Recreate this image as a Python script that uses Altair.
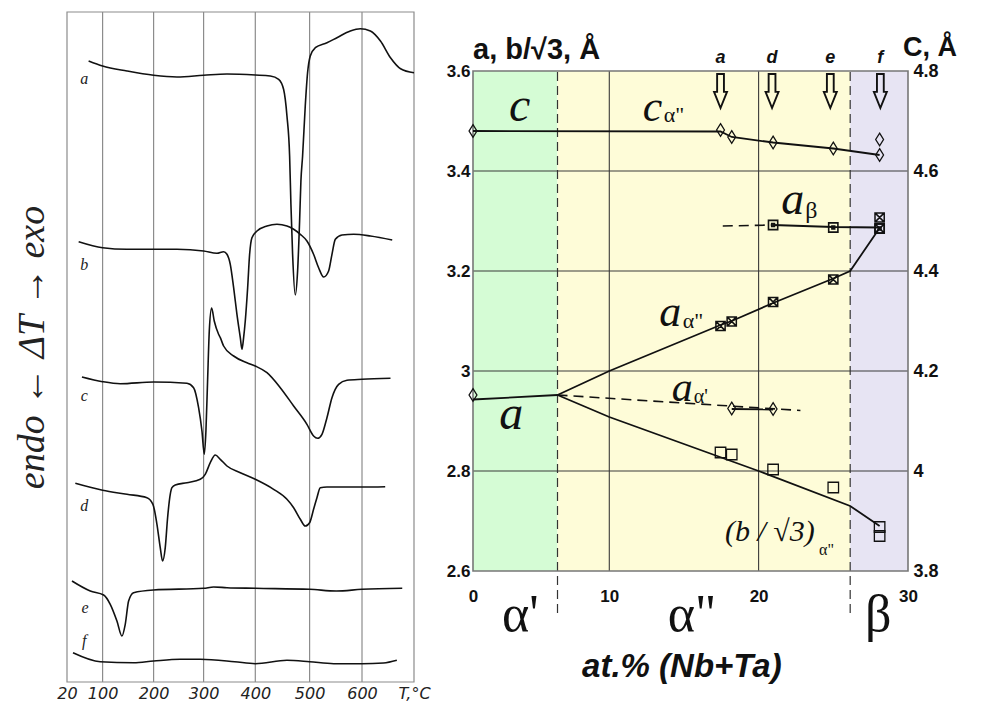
import altair as alt
import pandas as pd

# ---------------- Left panel: DTA curves (signal in arbitrary units) ----------------
T_GRID = [20, 100, 200, 300, 400, 500, 600, 700]
T_RANGE = [0, 35.6, 86.6, 136.6, 188.3, 242.6, 295, 347]

a_T = [68.6, 100, 147.7, 200, 246.7, 300, 345.2, 400, 427.6, 443, 452.1, 458.3, 463.2, 465.6, 468.7, 473.6,
       477.9, 481.6, 484.0, 487.1, 492, 496.3, 501.3, 510.8, 533.1, 552.2, 577.7, 596.8, 616.1, 635.5, 654.8, 674.2, 700]
a_s = [621, 616, 611, 606.7, 605, 606.7, 608, 607, 606, 602.7, 592.7, 566, 526, 477.7, 427.7, 387,
       411, 461, 501, 526, 576, 609.3, 626, 634.3, 639.3, 644.3, 651, 653.3, 651, 641, 624.3, 613.3, 609.3]
b_T = [46.2, 100, 147.7, 200, 246.7, 300, 325.8, 338.7, 345.2, 351.6, 358.1, 364.5, 371, 374.2, 377.4, 380.6,
       385.2, 389, 393.5, 403.1, 421.5, 439.9, 458.3, 470.6, 482.9, 495.1, 507.6, 517.2, 526.8, 536.3, 542.7,
       549.1, 561.8, 584.1, 616.1, 658.1]
b_s = [440.3, 434.3, 432.7, 432.7, 432.7, 431, 428.7, 430.3, 427.7, 417.7, 394.3, 367.7, 344.3, 332.7, 344.3, 361,
       394.3, 427.7, 444.3, 451, 456, 457.7, 456, 452.7, 447.7, 441, 427.7, 414.3, 405, 411, 427.7,
       442.7, 447, 447.7, 446, 442]
c_T = [53.6, 100, 134.6, 200, 266.7, 280, 290, 296.7, 301.3, 304.5, 307.7, 311, 315.5, 320.6, 329, 332.3, 338.7,
       358.1, 383.9, 400, 421.5, 446, 470.6, 495.1, 507.6, 515.3, 523.6, 533.1, 542.7, 555.4, 571.3, 600, 654.8]
c_s = [305, 300.3, 298.3, 300, 298.7, 294.3, 274.3, 251, 227.7, 251, 301, 351, 374, 361, 347.7, 344.3, 336,
       326, 319.3, 316, 309.3, 294.3, 276, 257.7, 246, 243.7, 247.7, 264.3, 284.3, 297.7, 301.7, 302.7, 303.7]
d_T = [38.7, 100, 147.7, 186.9, 198.7, 206.7, 213.3, 218, 223.3, 228, 233.3, 236.7, 243.3, 266.7, 293.3, 303.2,
       312.9, 322.6, 332.3, 345.2, 371, 400, 433.7, 458.3, 470.6, 482.9, 492, 500, 507.6, 514, 520.4, 533.1, 600, 644.6]
d_s = [198.7, 191.7, 187.7, 184.3, 177.7, 157.7, 134.3, 121, 134.3, 164.3, 187.7, 194.3, 197, 199.3, 202.7, 207.7,
       219.3, 227, 222.7, 216, 209.3, 202.7, 192.7, 182.7, 174.3, 162.7, 156, 159.3, 172.7, 184.3, 194.3, 195, 195, 195.3]
e_T = [31.2, 72.3, 102, 115, 128.1, 137.9, 144.4, 151, 160.8, 200, 300, 319.4, 345.2, 400, 500, 551, 600, 677.4]
e_s = [101, 91, 87, 77.7, 61, 46, 57.7, 81, 89.3, 92, 93.7, 95, 94.3, 93.7, 92.7, 91, 92.7, 93.7]
f_T = [33.5, 94.8, 160.8, 200, 253.3, 293.3, 360, 400, 458.3, 500, 545.9, 600, 641.4, 667]
f_s = [29.3, 20.3, 19.3, 21, 22.7, 22.7, 20.3, 18.3, 21.7, 20.3, 18.3, 18.3, 19, 21.7]

curve_names = ["a", "b", "c", "d", "e", "f"]
curve_label_T = [58.9, 58.9, 58.9, 58.9, 60.5, 58.9]
curve_label_s = [598, 412, 281, 171, 69, 36]

# ---------------- Right panel: lattice parameters ----------------
AT_TICKS = [0, 10, 20, 30]
AT_RANGE = [0, 136.3, 285.6, 435]
A_TICKS = [2.6, 2.8, 3.0, 3.2, 3.4, 3.6]
C_TICKS = [3.8, 4.0, 4.2, 4.4, 4.6, 4.8]
A_DOMAIN = [2.6, 3.718]
C_DOMAIN = [3.8, 4.918]

phase_names = ["alpha1", "alpha2", "beta"]
phase_from = [0, 6.2, 26.13]
phase_to = [6.2, 26.13, 30]
phase_colors = ["#d5fcd5", "#fefcd8", "#e7e4f3"]

# lines (a-axis)
a_line_x = [0, 6.2]
a_line_y = [2.943, 2.952]
aa2_line_x = [6.2, 10, 17.45, 18.2, 20.97, 25.0, 26.13, 28.1]
aa2_line_y = [2.952, 3.0, 3.092, 3.10, 3.136, 3.185, 3.2, 3.286]
b_line_x = [6.2, 10, 20, 26.13, 28.1]
b_line_y = [2.952, 2.908, 2.8, 2.73, 2.69]
ab_line_x = [20.97, 25.0, 28.1]
ab_line_y = [3.292, 3.288, 3.287]
aa1_solid_x = [18.2, 20.97]
aa1_solid_y = [2.924, 2.923]
# dashed lines
aa1_dash_x = [6.2, 22.8]
aa1_dash_y = [2.952, 2.921]
ab_dash_x = [17.6, 20.97]
ab_dash_y = [3.29, 3.292]
# c line (c-axis)
c_line_x = [0, 17.45, 18.2, 20.97, 25.0, 28.1]
c_line_y = [4.68, 4.679, 4.668, 4.657, 4.645, 4.632]

# points
c_pts_x = [0, 17.45, 18.2, 20.97, 25.0, 28.1, 28.1]
c_pts_y = [4.68, 4.682, 4.668, 4.657, 4.645, 4.663, 4.632]
adiam_x = [0, 18.2, 20.97]
adiam_y = [2.952, 2.925, 2.924]
aa2_pts_x = [17.45, 18.2, 20.97, 25.0, 28.1, 28.1]
aa2_pts_y = [3.09, 3.099, 3.138, 3.183, 3.307, 3.285]
ab_pts_x = [20.97, 25.0, 28.1]
ab_pts_y = [3.292, 3.287, 3.285]
b_pts_x = [17.45, 18.2, 20.97, 25.0, 28.1, 28.1]
b_pts_y = [2.837, 2.833, 2.803, 2.767, 2.688, 2.670]

arrow_names = ["a", "d", "e", "f"]
arrow_x = [17.45, 20.9, 24.8, 28.15]
arrow_y = 3.56
arrow_label_y = 3.616

# ---------------- build left chart ----------------
rows = []
for name, Ts, ss in zip(curve_names, [a_T, b_T, c_T, d_T, e_T, f_T], [a_s, b_s, c_s, d_s, e_s, f_s]):
    for t, s in zip(Ts, ss):
        rows.append({"curve": name, "T": t, "s": s})
curves_df = pd.DataFrame(rows)

lx = alt.X("T:Q", scale=alt.Scale(domain=T_GRID, range=T_RANGE, nice=False),
           axis=alt.Axis(values=T_GRID, labelExpr="datum.value == 700 ? 'T,°C' : datum.label",
                         ticks=False, domain=False, grid=False, labelFlush=False,
                         labelFont="DejaVu Sans", labelFontStyle="italic", labelFontSize=16,
                         labelColor="#222", labelPadding=3, title=None))
ly = alt.Y("s:Q", scale=alt.Scale(domain=[0, 670], nice=False, zero=False),
           axis=alt.Axis(title="endo ← ΔT → exo", labels=False, ticks=False, domain=False, grid=False,
                         titleFont="Liberation Serif", titleFontStyle="italic", titleFontWeight="normal",
                         titleFontSize=38, titleColor="#222", titlePadding=16))

grid_df = pd.DataFrame({"T": T_GRID[1:-1]})
frame_df = pd.DataFrame({"T": [20], "T2": [700], "s": [0], "s2": [670]})
left_grid = alt.Chart(grid_df).mark_rule(color="#8c8c8c", strokeWidth=1.2).encode(x=lx)
left_frame = alt.Chart(frame_df).mark_rect(fillOpacity=0, stroke="#8c8c8c", strokeWidth=1.2).encode(
    x=lx, x2="T2:Q", y=ly, y2="s2:Q")
left_lines = alt.Chart(curves_df).mark_line(color="#111", strokeWidth=1.6, interpolate="monotone").encode(
    x=lx, y=ly, detail="curve:N")
lab_df = pd.DataFrame({"T": curve_label_T, "s": curve_label_s, "text": curve_names})
left_labels = alt.Chart(lab_df).mark_text(font="Liberation Serif", fontStyle="italic", fontSize=16,
                                          baseline="alphabetic", color="#222").encode(
    x=lx, y=ly, text="text:N")
left = alt.layer(left_grid, left_frame, left_lines, left_labels).properties(width=347, height=670)

# ---------------- build right chart ----------------
rx = alt.X("x:Q", scale=alt.Scale(domain=AT_TICKS, range=AT_RANGE, nice=False),
           axis=alt.Axis(values=AT_TICKS, ticks=False, domain=False, grid=False, labelFlush=False,
                         labelFont="Liberation Sans", labelFontWeight="bold", labelFontSize=17,
                         labelColor="#111", labelPadding=17, title=None))
ry = alt.Y("y:Q", scale=alt.Scale(domain=A_DOMAIN, nice=False, zero=False),
           axis=alt.Axis(values=A_TICKS, format=".1~f", orient="left", ticks=False, domain=False, grid=False,
                         labelFlush=False, labelFont="Liberation Sans", labelFontWeight="bold",
                         labelFontSize=17, labelColor="#111", labelPadding=3, title=None))
cy = alt.Y("y:Q", scale=alt.Scale(domain=C_DOMAIN, nice=False, zero=False),
           axis=alt.Axis(values=C_TICKS, format=".1~f", orient="right", ticks=False, domain=False, grid=False,
                         labelFlush=False, labelFont="Liberation Sans", labelFontWeight="bold",
                         labelFontSize=18, labelColor="#111", labelPadding=5, title=None))


def xy_df(xs, ys, name="s"):
    return pd.DataFrame({"x": xs, "y": ys, "series": [name] * len(xs)})


bands_df = pd.DataFrame({"phase": phase_names, "x": phase_from, "x2": phase_to,
                         "y": [2.6] * 3, "y2": [3.6] * 3})
bands = alt.Chart(bands_df).mark_rect().encode(
    x=rx, x2="x2:Q", y=ry, y2="y2:Q",
    color=alt.Color("phase:N", scale=alt.Scale(domain=phase_names, range=phase_colors), legend=None))

vgrid_df = pd.DataFrame({"x": [10, 20], "y": [2.6, 2.6], "y2": [3.6, 3.6]})
hgrid_df = pd.DataFrame({"y": [2.8, 3.0, 3.2, 3.4], "x": [0] * 4, "x2": [30] * 4})
vgrid = alt.Chart(vgrid_df).mark_rule(color="#3a3a3a", strokeWidth=1.1).encode(x=rx, y=ry, y2="y2:Q")
hgrid = alt.Chart(hgrid_df).mark_rule(color="#3a3a3a", strokeWidth=1.1).encode(x=rx, x2="x2:Q", y=ry)
bound_df = pd.DataFrame({"x": [6.2, 26.13], "y": [2.516, 2.516], "y2": [3.6, 3.6]})
bounds_r = alt.Chart(bound_df).mark_rule(color="#333", strokeWidth=1.2, strokeDash=[9, 5]).encode(
    x=rx, y=ry, y2="y2:Q")
frame_r = alt.Chart(pd.DataFrame({"x": [0], "x2": [30], "y": [2.6], "y2": [3.6]})).mark_rect(
    fillOpacity=0, stroke="#777", strokeWidth=1.6).encode(x=rx, x2="x2:Q", y=ry, y2="y2:Q")

solid_df = pd.concat([xy_df(a_line_x, a_line_y, "a"), xy_df(aa2_line_x, aa2_line_y, "aa2"),
                      xy_df(b_line_x, b_line_y, "b"), xy_df(ab_line_x, ab_line_y, "ab"),
                      xy_df(aa1_solid_x, aa1_solid_y, "aa1")])
solid = alt.Chart(solid_df).mark_line(color="#111", strokeWidth=1.8).encode(x=rx, y=ry, detail="series:N")
dash_df = pd.concat([xy_df(aa1_dash_x, aa1_dash_y, "aa1d"), xy_df(ab_dash_x, ab_dash_y, "abd")])
dashed = alt.Chart(dash_df).mark_line(color="#111", strokeWidth=1.6, strokeDash=[10, 6]).encode(
    x=rx, y=ry, detail="series:N")

DIAMOND = "M 0 -1 L 0.62 0 L 0 1 L -0.62 0 Z"
XSQUARE = "M -1 -1 L 1 -1 L 1 1 L -1 1 Z M -1 -1 L 1 1 M 1 -1 L -1 1"
DSQUARE = "M -1 -1 L 1 -1 L 1 1 L -1 1 Z M -0.3 -0.3 L 0.3 -0.3 L 0.3 0.3 L -0.3 0.3 Z"
ARROW = "M -0.2 -1 L 0.2 -1 L 0.2 0.05 L 0.38 0.05 L 0 1 L -0.38 0.05 L -0.2 0.05 Z"


def pts(xs, ys, shape, size, yenc, sw=1.3):
    return alt.Chart(xy_df(xs, ys)).mark_point(shape=shape, size=size, filled=False, opacity=1,
                                                color="#111", strokeWidth=sw).encode(x=rx, y=yenc)


p_adiam = pts(adiam_x, adiam_y, DIAMOND, 160, ry)
p_aa2 = pts(aa2_pts_x, aa2_pts_y, XSQUARE, 85, ry, 1.5)
p_ab = pts(ab_pts_x, ab_pts_y, DSQUARE, 85, ry, 1.6)
p_b = pts(b_pts_x, b_pts_y, "square", 110, ry, 1.3)
arrows = pts(arrow_x, [arrow_y] * 4, ARROW, 1160, ry, 1.9)


def texts(xs, ys, labels, sizes, font, style="normal", weight="normal", align="center"):
    df = pd.DataFrame({"x": xs, "y": ys, "text": labels, "fs": sizes})
    return alt.Chart(df).mark_text(font=font, fontStyle=style, fontWeight=weight, align=align,
                                   baseline="alphabetic", color="#111").encode(
        x=rx, y=ry, text="text:N", size=alt.Size("fs:Q", scale=None, legend=None))


big_letters = texts([3.42, 12.9, 22.28, 14.09, 14.89, 2.81],
                    [3.5, 3.5, 3.314, 3.09, 2.94, 2.884],
                    ["c", "c", "a", "a", "a", "a"],
                    [48, 44, 46, 44, 42, 48], "Liberation Serif", style="italic")
subs = texts([13.65, 23.12, 14.92, 15.65, 24.05],
             [3.498, 3.306, 3.086, 2.936, 2.632],
             ['α"', "β", 'α"', "α'", 'α"'],
             [22, 24, 22, 20, 16], "Liberation Serif", align="left")
b_sqrt = texts([17.75], [2.66], ["(b / √3)"], [30], "Liberation Serif", style="italic", align="left")
phase_lbl = texts([3.47, 15.54, 28.0], [2.48, 2.48, 2.48], ["α'", 'α"', "β"], [52, 52, 52],
                  "Liberation Serif")
x_title = texts([14.86], [2.388], ["at.% (Nb+Ta)"], [33], "Liberation Sans", style="italic", weight="bold")
arrow_lbl = texts(arrow_x, [arrow_label_y] * 4, arrow_names, [18] * 4, "Liberation Sans",
                  style="italic", weight="bold")
top_left_title = texts([0.0], [3.624], ["a, b/√3, Å"], [29], "Liberation Sans", weight="bold", align="left")
top_right_title = texts([29.67], [3.63], ["C, Å"], [27], "Liberation Sans", weight="bold", align="left")

main_group = alt.layer(bands, vgrid, hgrid, bounds_r, frame_r, solid, dashed,
                       p_adiam, p_aa2, p_ab, p_b, arrows,
                       big_letters, subs, b_sqrt, phase_lbl, x_title, arrow_lbl,
                       top_left_title, top_right_title)

c_line = alt.Chart(xy_df(c_line_x, c_line_y)).mark_line(color="#111", strokeWidth=1.8).encode(x=rx, y=cy)
c_pts = alt.Chart(xy_df(c_pts_x, c_pts_y)).mark_point(shape=DIAMOND, size=160, filled=False, opacity=1,
                                                      color="#111", strokeWidth=1.3).encode(x=rx, y=cy)
c_group = alt.layer(c_line, c_pts)

right = alt.layer(main_group, c_group).resolve_scale(y="independent").properties(width=435, height=559)

chart = alt.hconcat(left, right, spacing=59, bounds="flush").properties(
    padding={"left": 5, "top": 3, "right": 5, "bottom": 5}
).configure_view(strokeWidth=0)

chart.save("out.html", embed_options={"renderer": "svg", "actions": False})
